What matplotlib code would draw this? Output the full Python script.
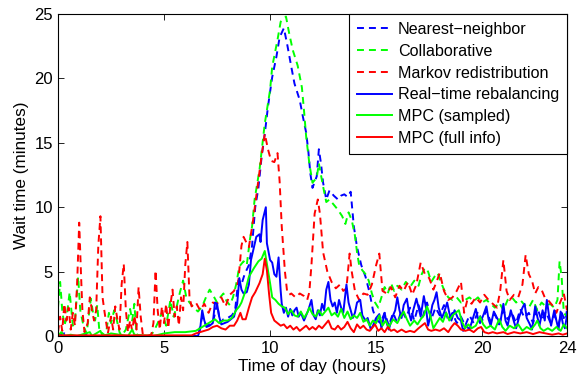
import numpy as np
import matplotlib.pyplot as plt

plt.rcParams['font.family'] = ['Liberation Sans', 'DejaVu Sans']
plt.rcParams['font.size'] = 12
plt.rcParams['lines.scale_dashes'] = False

# Nearest-neighbor (blue dashed)
nn_t = [0, 0.3, 0.5, 6.6, 6.8, 7.0, 7.3, 7.5, 7.65, 7.8, 8.0, 8.2, 8.35, 8.5, 8.65, 8.8, 9.0, 9.15,
        9.3, 9.45, 9.6, 9.75, 9.9, 10.1, 10.3, 10.45, 10.65, 10.8, 11.0, 11.15, 11.4, 11.55, 11.7, 11.8,
        11.9, 12.0, 12.2, 12.3, 12.4, 12.5, 12.65, 12.8, 13.0, 13.2, 13.35, 13.5, 13.65, 13.8, 13.95,
        14.1, 14.3, 14.5, 14.7, 14.85, 15.0, 15.2, 15.4, 15.6, 15.8, 16.0, 16.2, 16.4, 16.6, 16.8, 17.0,
        17.2, 17.4, 17.6, 17.8, 18.0, 18.2, 18.4, 18.6, 18.8, 19.0, 19.2, 19.4, 19.6, 19.8, 20.0, 20.2,
        20.4, 20.6, 20.8, 21.0, 21.2, 21.4, 21.6, 21.8, 22.0, 22.2, 22.4, 22.6, 22.8, 23.0, 23.2, 23.4,
        23.6, 23.75, 23.9, 24.0]
nn_v = [0.1, 0.2, 0.0, 0.0, 1.5, 0.8, 1.0, 2.5, 1.0, 1.3, 1.4, 1.6, 2.0, 4.3, 4.0, 4.8, 5.5, 7.0,
        10.0, 11.5, 13.9, 15.7, 17.8, 20.1, 21.7, 23.2, 23.9, 22.7, 20.9, 19.6, 18.3, 17.0, 15.8, 14.4,
        12.6, 11.5, 12.4, 14.5, 13.4, 11.9, 10.6, 11.3, 10.9, 10.6, 10.9, 11.0, 10.8, 11.2, 8.5,
        6.9, 5.5, 4.6, 3.3, 2.0, 1.3, 1.0, 1.8, 0.8, 1.8, 1.0, 2.0, 1.4, 2.2, 1.2, 2.4,
        1.5, 2.6, 1.3, 2.2, 1.6, 2.4, 1.2, 1.8, 1.0, 1.5, 0.8, 1.6, 1.0, 1.9, 1.2, 2.0,
        1.1, 1.7, 0.9, 2.0, 1.3, 1.8, 1.0, 2.1, 1.4, 1.8, 1.0, 2.2, 1.2, 1.9, 1.1, 1.6,
        0.9, 1.8, 1.2, 2.0]

# Collaborative (green dashed)
co_t = [0, 0.1, 0.2, 0.3, 0.4, 0.55, 0.7, 0.8, 0.95, 1.05, 1.2, 1.35, 1.55, 1.65, 1.75, 1.85, 1.95,
        2.1, 2.25, 2.4, 2.5, 2.65, 2.75, 2.9, 3.0, 3.2, 3.4, 3.5, 3.6, 3.7, 3.8, 4.3, 4.5, 4.7, 4.9,
        5.1, 5.3, 5.45, 5.6, 5.75, 5.9, 6.05, 6.2, 6.4, 6.6, 6.8, 7.0, 7.15, 7.3, 7.5, 7.65, 7.8, 7.95,
        8.1, 8.25, 8.4, 8.55, 8.75, 8.9, 9.05, 9.15, 9.27, 9.5, 9.75, 10.0, 10.1, 10.35, 10.5, 10.75,
        10.9, 11.07, 11.3, 11.5, 11.6, 11.7, 11.85, 12.0, 12.2, 12.3, 12.5, 12.65, 12.8, 13.0, 13.2,
        13.4, 13.55, 13.7, 13.85, 14.0, 14.1, 14.2, 14.35, 14.5, 14.65, 14.8, 14.95, 15.1, 15.25, 15.4,
        15.55, 15.7, 15.85, 16.0, 16.2, 16.4, 16.6, 16.8, 17.0, 17.15, 17.3, 17.45, 17.6, 17.75, 17.9,
        18.05, 18.2, 18.4, 18.6, 18.8, 19.0, 19.2, 19.4, 19.6, 19.8, 20.0, 20.2, 20.4, 20.6, 20.8,
        21.0, 21.2, 21.4, 21.6, 21.8, 22.0, 22.2, 22.4, 22.6, 22.8, 23.0, 23.2, 23.4, 23.55, 23.65,
        23.75, 23.85, 24.0]
co_v = [2.2, 4.2, 2.0, 0.8, 1.4, 3.4, 0.8, 1.2, 4.6, 2.0, 0.8, 0.2, 2.9, 1.8, 1.2, 2.4, 0.4,
        0.2, 0.0, 1.8, 1.0, 2.0, 1.4, 0.3, 0.0, 0.5, 2.1, 1.2, 2.5, 0.2, 0.0, 0.0, 0.3, 1.0, 1.8,
        0.8, 2.8, 1.5, 2.3, 3.4, 4.3, 3.0, 2.6, 2.2, 1.9, 2.3, 3.1, 3.6, 3.2, 2.6, 3.0, 3.3, 2.7,
        2.4, 3.0, 4.0, 5.4, 5.8, 5.5, 7.5, 8.5, 10.6, 12.9, 16.5, 19.1, 20.9, 23.0, 24.4, 24.8,
        23.5, 22.2, 21.0, 19.3, 17.5, 15.5, 13.4, 11.9, 12.3, 13.4, 11.6, 10.4, 10.6, 10.2, 9.8,
        9.3, 8.7, 9.6, 9.0, 7.8, 6.5, 5.5, 5.1, 4.8, 4.3, 3.3, 2.6, 2.2, 3.0, 3.8,
        3.3, 4.1, 3.5, 3.9, 3.6, 4.2, 3.8, 4.3, 3.9, 4.8, 5.3, 5.0, 4.2, 4.6, 4.9,
        4.2, 3.6, 3.0, 2.8, 3.0, 2.6, 2.8, 3.0, 2.7, 3.0, 2.6, 2.8, 2.5, 2.2, 2.6,
        2.0, 2.8, 3.0, 2.6, 2.8, 2.4, 2.2, 2.8, 2.0, 2.6, 2.3, 2.5, 2.2, 2.8, 5.8,
        4.5, 1.8, 1.5]

# Markov redistribution (red dashed)
mk_t = [0, 0.1, 0.2, 0.3, 0.4, 0.5, 0.6, 0.7, 0.8, 0.9, 1.0, 1.08, 1.15, 1.25, 1.4, 1.5, 1.6, 1.7,
        1.8, 1.9, 2.0, 2.1, 2.2, 2.35, 2.5, 2.6, 2.7, 2.8, 2.9, 3.0, 3.1, 3.2, 3.3, 3.4, 3.5, 3.6,
        3.7, 3.8, 3.9, 4.0, 4.2, 4.4, 4.5, 4.6, 4.7, 4.8, 4.9, 5.0, 5.1, 5.2, 5.3, 5.4, 5.5, 5.6,
        5.7, 5.8, 5.9, 6.0, 6.1, 6.2, 6.3, 6.5, 6.7, 6.9, 7.1, 7.3, 7.5, 7.7, 7.9, 8.1, 8.3, 8.5,
        8.65, 8.75, 8.9, 9.0, 9.2, 9.4, 9.6, 9.75, 9.9, 10.05, 10.2, 10.35, 10.45, 10.55, 10.7, 10.8,
        10.9, 11.0, 11.2, 11.4, 11.6, 11.75, 11.85, 11.95, 12.1, 12.25, 12.35, 12.5, 12.7, 12.9,
        13.1, 13.3, 13.45, 13.6, 13.75, 13.85, 14.0, 14.2, 14.4, 14.6, 14.8, 15.0, 15.15, 15.3,
        15.5, 15.7, 15.9, 16.1, 16.3, 16.5, 16.7, 16.9, 17.1, 17.3, 17.5, 17.7, 17.85, 18.0, 18.2,
        18.4, 18.6, 18.8, 19.0, 19.15, 19.3, 19.5, 19.7, 19.9, 20.1, 20.3, 20.5, 20.7, 20.85, 21.0,
        21.15, 21.3, 21.5, 21.7, 21.9, 22.05, 22.2, 22.35, 22.5, 22.65, 22.8, 22.95, 23.1, 23.3,
        23.5, 23.65, 23.85, 24.0]
mk_v = [0.3, 1.5, 0.4, 2.5, 1.2, 2.2, 0.5, 1.8, 0.8, 4.0, 8.8, 5.0, 2.0, 0.3, 1.0, 3.0, 2.0, 1.2,
        2.0, 7.0, 9.3, 3.0, 1.8, 0.2, 1.5, 0.5, 2.3, 1.3, 0.5, 4.0, 5.6, 2.0, 0.3, 1.2, 0.4, 1.6,
        0.5, 3.8, 1.5, 0.1, 0.0, 0.1, 1.0, 5.1, 2.0, 0.5, 2.3, 1.0, 2.5, 0.6, 2.4, 3.6, 1.5, 2.3,
        0.8, 3.0, 2.0, 5.5, 7.3, 3.0, 2.3, 2.6, 2.0, 2.5, 1.8, 2.6, 2.5, 3.0, 2.3, 3.2, 3.5, 4.2,
        7.0, 7.7, 7.2, 6.9, 9.0, 11.5, 14.0, 15.7, 14.5, 13.6, 13.5, 14.2, 12.0, 8.5, 5.0, 3.5,
        3.2, 3.3, 3.0, 3.3, 3.1, 2.8, 3.4, 5.5, 9.5, 10.6, 9.5, 6.5, 5.0, 4.2,
        3.7, 4.0, 3.5, 3.7, 6.4, 5.0, 3.5, 2.8, 3.3, 3.2, 4.0, 5.5, 6.4, 3.5,
        3.3, 3.8, 3.0, 3.9, 3.5, 4.2, 3.2, 4.0, 5.7, 4.8, 4.5, 3.6, 4.2, 4.9, 3.5,
        2.8, 3.0, 3.5, 4.2, 1.8, 2.8, 2.5, 3.0, 2.6, 3.2, 2.8, 2.5, 2.2, 3.5, 5.9,
        3.5, 2.8, 3.2, 3.0, 4.0, 6.3, 4.8, 4.3, 3.3, 3.8, 3.6, 3.0, 2.8, 2.4,
        1.8, 2.5, 3.3, 2.0]

# Real-time rebalancing (blue solid)
rt_t = [0, 0.2, 0.35, 1.2, 1.3, 1.4, 6.6, 6.7, 6.8, 6.9, 7.0, 7.15, 7.3, 7.4, 7.5, 7.6, 7.7, 7.85,
        8.0, 8.15, 8.3, 8.45, 8.55, 8.65, 8.75, 8.9, 9.0, 9.1, 9.25, 9.35, 9.5, 9.55, 9.65, 9.8, 9.85,
        10.0, 10.1, 10.2, 10.3, 10.4, 10.5, 10.55, 10.65, 10.75, 10.85, 10.95, 11.05, 11.15, 11.25,
        11.35, 11.45, 11.6, 11.7, 11.8, 11.95, 12.05, 12.15, 12.25, 12.35, 12.45, 12.55, 12.65, 12.75,
        12.85, 12.95, 13.05, 13.15, 13.25, 13.35, 13.45, 13.6, 13.7, 13.8, 13.9, 14.0, 14.1, 14.25,
        14.35, 14.5, 14.6, 14.75, 14.85, 15.0, 15.15, 15.25, 15.4, 15.5, 15.6, 15.75, 15.9, 16.0,
        16.1, 16.2, 16.3, 16.45, 16.55, 16.65, 16.75, 16.9, 17.0, 17.1, 17.25, 17.35, 17.45, 17.55,
        17.65, 17.75, 17.85, 17.95, 18.1, 18.2, 18.35, 18.45, 18.55, 18.7, 18.85, 19.0, 19.1, 19.25,
        19.4, 19.55, 19.7, 19.8, 19.9, 20.05, 20.2, 20.3, 20.4, 20.55, 20.7, 20.85, 21.0, 21.1, 21.2,
        21.35, 21.5, 21.6, 21.75, 21.9, 22.0, 22.1, 22.25, 22.35, 22.5, 22.6, 22.7, 22.85, 22.95,
        23.05, 23.15, 23.25, 23.4, 23.5, 23.6, 23.7, 23.8, 23.9, 24.0]
rt_v = [0.0, 0.2, 0.0, 0.0, 0.1, 0.0, 0.0, 0.5, 2.0, 1.2, 0.7, 0.8, 1.0, 2.6, 2.5, 1.5, 0.9, 1.0,
        1.1, 1.3, 1.5, 2.5, 4.5, 3.6, 3.3, 3.4, 4.0, 5.9, 7.0, 7.7, 7.9, 7.3, 9.0, 10.0, 7.2,
        5.9, 5.7, 4.8, 4.6, 6.1, 3.5, 2.5, 1.8, 2.2, 1.5, 2.1, 1.6, 2.0, 2.2,
        1.5, 1.8, 1.2, 1.6, 2.0, 2.8, 1.6, 1.3, 2.0, 1.6, 2.5, 2.0, 3.6, 4.2,
        2.8, 2.3, 2.6, 1.8, 2.8, 2.2, 1.8, 4.0, 2.6, 2.0, 1.4, 1.8, 2.6, 2.8,
        1.6, 1.2, 1.4, 0.5, 0.8, 1.4, 1.7, 0.6, 1.8, 1.0, 0.5, 1.4, 2.0, 3.0,
        2.0, 1.4, 2.4, 2.9, 1.8, 1.2, 2.0, 2.9, 2.2, 1.5, 3.1, 2.2, 0.8, 1.5,
        2.4, 2.8, 3.4, 2.2, 1.4, 1.8, 2.6, 1.8, 1.2, 2.0, 1.4, 1.2, 0.4, 0.8,
        0.5, 1.3, 2.1, 1.4, 1.0, 1.6, 2.3, 1.3, 0.8, 1.9, 1.4, 1.0, 2.5, 1.2, 0.8,
        2.0, 1.1, 0.6, 1.5, 2.2, 2.5, 1.4, 0.9, 0.5, 2.3, 1.5, 0.8, 2.0, 1.2,
        2.8, 1.6, 0.8, 2.0, 1.2, 0.5, 1.9, 1.0, 0.6, 1.6]

# MPC (sampled) (green solid)
ms_t = [0, 0.15, 0.3, 0.6, 0.9, 1.5, 1.6, 2.0, 2.1, 2.5, 3.3, 3.5, 3.6, 4.5, 5.0, 5.5, 6.0, 6.5,
        6.8, 7.0, 7.2, 7.4, 7.6, 7.8, 8.0, 8.2, 8.4, 8.55, 8.65, 8.8, 9.0, 9.25, 9.45, 9.6, 9.75,
        9.85, 10.0, 10.1, 10.25, 10.4, 10.55, 10.7, 10.85, 11.0, 11.15, 11.3, 11.45, 11.6, 11.75,
        11.85, 12.0, 12.15, 12.3, 12.45, 12.6, 12.75, 12.9, 13.05, 13.2, 13.35, 13.5, 13.65, 13.8,
        13.95, 14.1, 14.25, 14.4, 14.55, 14.7, 14.85, 15.0, 15.15, 15.3, 15.45, 15.6, 15.8, 16.0,
        16.15, 16.3, 16.45, 16.6, 16.8, 16.95, 17.1, 17.25, 17.4, 17.55, 17.7, 17.85, 18.0, 18.15,
        18.3, 18.45, 18.6, 18.75, 18.9, 19.05, 19.2, 19.35, 19.5, 19.7, 19.9, 20.05, 20.2, 20.4,
        20.6, 20.8, 20.95, 21.1, 21.3, 21.5, 21.7, 21.9, 22.1, 22.3, 22.5, 22.6, 22.75, 22.9, 23.1,
        23.3, 23.5, 23.7, 23.85, 24.0]
ms_v = [0.0, 0.3, 0.0, 0.1, 0.0, 0.3, 0.0, 0.4, 0.0, 0.2, 0.0, 0.5, 0.1, 0.0, 0.2, 0.3, 0.3, 0.4,
        0.7, 0.9, 1.1, 1.3, 1.0, 1.2, 1.2, 1.4, 2.0, 2.3, 2.6, 3.3, 4.6, 5.3, 5.8, 6.0, 6.6,
        5.6, 4.1, 3.0, 2.8, 2.5, 2.3, 2.2, 1.7, 2.0, 1.6, 1.5, 1.9, 1.4, 1.8,
        2.2, 1.7, 1.5, 2.0, 1.6, 1.9, 2.2, 1.6, 1.8, 1.5, 2.1, 1.4, 1.9, 1.3,
        1.6, 1.4, 1.8, 1.1, 1.3, 0.8, 1.2, 1.0, 1.6, 0.8, 1.2, 0.7, 1.3, 1.0,
        1.5, 1.9, 1.3, 0.8, 1.2, 0.9, 1.3, 1.6, 2.3, 1.6, 0.6, 1.0, 1.4, 1.1,
        1.8, 1.2, 1.6, 1.8, 2.0, 1.1, 0.6, 0.9, 0.6, 0.8, 1.5, 0.9, 0.6, 0.8,
        0.5, 1.3, 0.7, 0.4, 0.8, 0.6, 0.9, 0.4, 0.7, 0.5, 0.9, 1.2, 0.6, 0.4, 0.6,
        0.4, 0.7, 0.4, 0.9, 0.6]

# MPC (full info) (red solid)
mf_t = [0, 6.3, 6.5, 6.7, 6.9, 7.1, 7.3, 7.5, 7.7, 7.9, 8.1, 8.3, 8.45, 8.6, 8.7, 8.85, 9.0, 9.15,
        9.3, 9.5, 9.65, 9.75, 9.85, 9.95, 10.05, 10.2, 10.35, 10.5, 10.65, 10.8, 10.95, 11.1, 11.25,
        11.4, 11.55, 11.7, 11.85, 12.0, 12.15, 12.3, 12.45, 12.6, 12.75, 12.9, 13.05, 13.2, 13.35,
        13.5, 13.65, 13.8, 13.95, 14.1, 14.25, 14.4, 14.55, 14.7, 14.85, 14.95, 15.1, 15.25, 15.4,
        15.55, 15.7, 15.85, 16.0, 16.2, 16.4, 16.6, 16.8, 17.0, 17.15, 17.3, 17.45, 17.6, 17.8, 18.0,
        18.2, 18.4, 18.55, 18.7, 18.85, 19.0, 19.2, 19.4, 19.6, 19.8, 19.95, 20.1, 20.3, 20.5, 20.7,
        21.0, 21.2, 21.5, 21.8, 22.1, 22.4, 22.7, 23.0, 23.3, 23.6, 23.8, 24.0]
mf_v = [0.05, 0.05, 0.2, 0.3, 0.4, 0.5, 0.7, 0.8, 0.6, 0.5, 0.8, 0.8, 1.2, 1.8, 1.3, 1.3, 2.2, 3.0,
        3.4, 4.1, 4.8, 6.0, 5.1, 3.3, 1.8, 1.2, 1.0, 0.8, 0.9, 0.6, 0.8, 0.5, 0.7,
        0.4, 0.6, 0.8, 0.5, 0.7, 0.5, 0.8, 0.6, 0.9, 1.2, 0.6, 0.5, 0.8, 0.5,
        0.7, 1.1, 0.6, 0.3, 0.9, 0.6, 0.8, 0.5, 0.4, 0.7, 0.9, 0.4, 0.6, 0.3,
        0.7, 0.4, 0.5, 0.3, 0.5, 0.3, 0.4, 0.3, 0.6, 0.8, 1.0, 0.5, 0.4, 0.5, 0.4,
        0.6, 0.3, 0.7, 1.0, 0.8, 0.5, 0.4, 0.5, 0.3, 0.6, 0.7, 0.3, 0.2, 0.3, 0.2,
        0.3, 0.15, 0.3, 0.2, 0.3, 0.15, 0.3, 0.2, 0.1, 0.2, 0.1, 0.2]

labels = ['Nearest\u2212neighbor', 'Collaborative', 'Markov redistribution',
          'Real\u2212time rebalancing', 'MPC (sampled)', 'MPC (full info)']
x_ticks = [0, 5, 10, 15, 20, 24]
y_ticks = [0, 5, 10, 15, 20, 25]

fig = plt.figure(figsize=(5.8, 3.83), dpi=100)
ax = fig.add_axes([58 / 580, 47 / 383, 509 / 580, 322 / 383])

dash = (5, 3.6)
lw = 1.4
ax.plot(nn_t, nn_v, color='b', lw=lw, dashes=dash, label=labels[0])
ax.plot(co_t, co_v, color='#00ff00', lw=lw, dashes=dash, label=labels[1])
ax.plot(mk_t, mk_v, color='r', lw=lw, dashes=dash, label=labels[2])
ax.plot(rt_t, rt_v, color='b', lw=lw, label=labels[3])
ax.plot(ms_t, ms_v, color='#00ff00', lw=lw, label=labels[4])
ax.plot(mf_t, mf_v, color='r', lw=lw, label=labels[5])

ax.set_xlim(0, 24)
ax.set_ylim(0, 25)
ax.set_xticks(x_ticks)
ax.set_yticks(y_ticks)
ax.tick_params(direction='in', top=True, right=True, length=4, width=0.6, labelsize=12)
for s in ax.spines.values():
    s.set_linewidth(0.8)
ax.set_xlabel('Time of day (hours)', labelpad=2, fontsize=12.3)
ax.set_ylabel('Wait time (minutes)', labelpad=4, fontsize=12.3)

leg = ax.legend(loc='upper right', borderaxespad=0, fancybox=False, framealpha=1,
                edgecolor='k', handlelength=2.2, handletextpad=0.35, labelspacing=0.42,
                borderpad=0.5, fontsize=11.6)
leg.get_frame().set_linewidth(0.8)

fig.savefig('out.png', dpi=100)
